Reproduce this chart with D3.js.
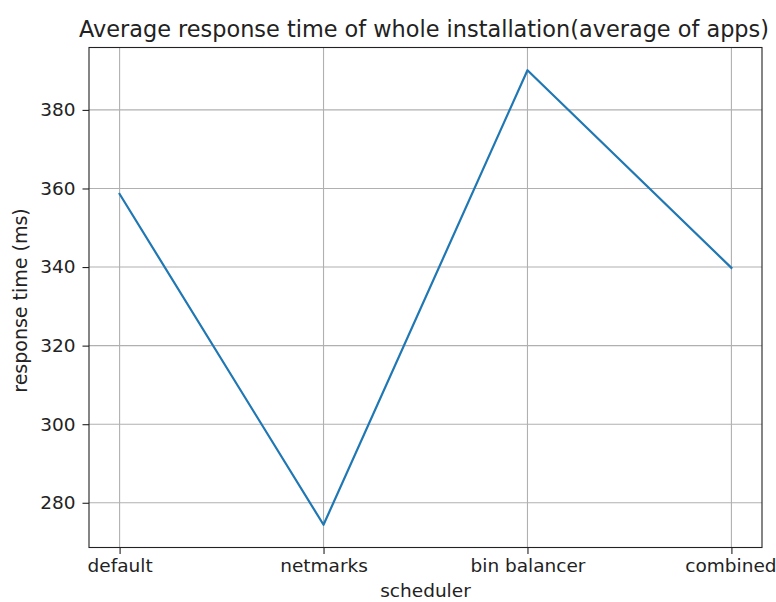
<!DOCTYPE html>
<html><head><meta charset="utf-8">
<script src="https://cdn.jsdelivr.net/npm/d3@7"></script>
<style>body{margin:0;background:#fff}svg{display:block;font-family:"DejaVu Sans",sans-serif}</style>
</head><body><svg id="c" width="776" height="602"></svg>
<script>
const categories = ["default", "netmarks", "bin balancer", "combined"];
const values = [358.6, 274.4, 390.1, 339.8];
const yTicks = [280, 300, 320, 340, 360, 380];

const svg = d3.select("#c");
const L = 89, R = 762, T = 47.5, B = 547.5;
const n = categories.length;
const xPad = (n - 1) * 0.05;
const x = d3.scaleLinear().domain([-xPad, n - 1 + xPad]).range([L, R]);
const ymin = d3.min(values), ymax = d3.max(values), yp = (ymax - ymin) * 0.05;
const y = d3.scaleLinear().domain([ymin - yp, ymax + yp]).range([B, T]);
const TS = 18.5, TT = 22.4;

// grid
const g = svg.append("g");
g.selectAll(".vg").data(categories).join("line")
  .attr("x1", (d, i) => x(i)).attr("x2", (d, i) => x(i)).attr("y1", T).attr("y2", B)
  .attr("stroke", "#b0b0b0").attr("stroke-width", 1.1);
g.selectAll(".hg").data(yTicks).join("line")
  .attr("x1", L).attr("x2", R).attr("y1", d => y(d)).attr("y2", d => y(d))
  .attr("stroke", "#b0b0b0").attr("stroke-width", 1.1);

// line
svg.append("path").datum(values)
  .attr("d", d3.line().x((d, i) => x(i)).y(d => y(d)))
  .attr("fill", "none").attr("stroke", "#1f77b4").attr("stroke-width", 2.2)
  .attr("stroke-linejoin", "round").attr("stroke-linecap", "square");

// axes
const xa = svg.append("g").attr("transform", `translate(0,${B})`)
  .call(d3.axisBottom(x).tickValues(d3.range(n)).tickFormat(i => categories[i]).tickSize(6.5).tickPadding(5).tickSizeOuter(0));
const ya = svg.append("g").attr("transform", `translate(${L},0)`)
  .call(d3.axisLeft(y).tickValues(yTicks).tickSize(6.5).tickPadding(7).tickSizeOuter(0));
[xa, ya].forEach(a => {
  a.select(".domain").remove();
  a.selectAll("text").attr("font-size", TS).attr("fill", "#222").attr("font-family", "DejaVu Sans");
  a.selectAll("line").attr("stroke", "#222").attr("stroke-width", 1.1);
});
xa.selectAll("text").filter((d, i) => i === n - 1).attr("dx", -1);

// frame
svg.append("rect").attr("x", L).attr("y", T).attr("width", R - L).attr("height", B - T)
  .attr("fill", "none").attr("stroke", "#222").attr("stroke-width", 1.1);

// labels
svg.append("text").attr("x", 424).attr("y", 37).attr("text-anchor", "middle")
  .attr("font-size", TT).attr("fill", "#222").text("Average response time of whole installation(average of apps)");
svg.append("text").attr("x", (L + R) / 2).attr("y", 597).attr("text-anchor", "middle")
  .attr("font-size", TS).attr("fill", "#222").text("scheduler");
svg.append("text").attr("transform", `translate(27,${(T + B) / 2 + 3}) rotate(-90)`).attr("text-anchor", "middle")
  .attr("font-size", 19).attr("fill", "#222").text("response time (ms)");
</script></body></html>
